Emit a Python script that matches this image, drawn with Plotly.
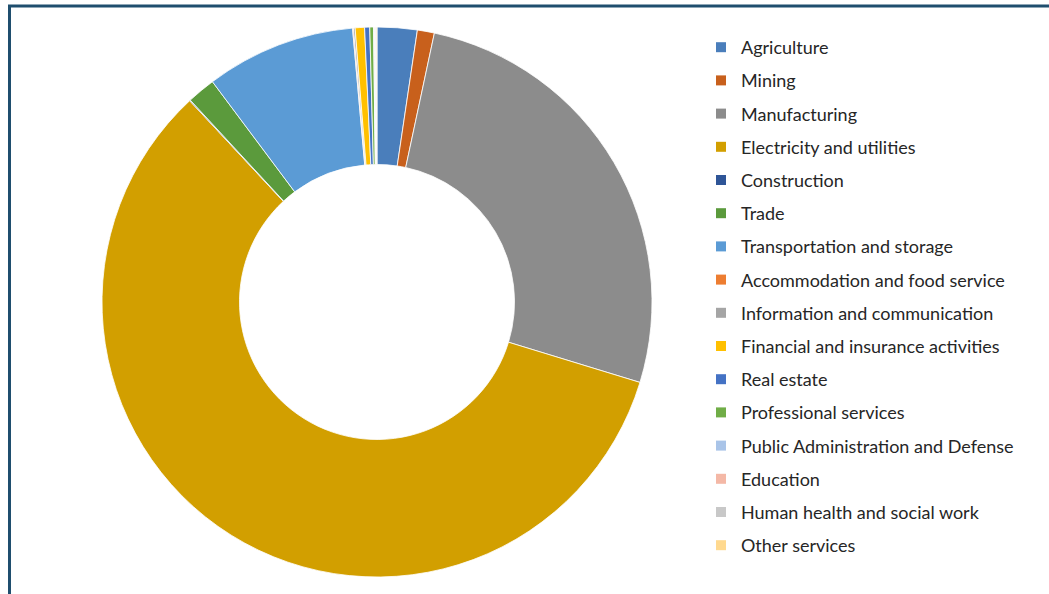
import plotly.graph_objects as go

labels = [
    "Agriculture", "Mining", "Manufacturing", "Electricity and utilities",
    "Construction", "Trade", "Transportation and storage",
    "Accommodation and food service", "Information and communication",
    "Financial and insurance activities", "Real estate", "Professional services",
    "Public Administration and Defense", "Education",
    "Human health and social work", "Other services",
]
values = [2.35, 1.0, 26.4, 58.4, 0.05, 1.67, 8.8, 0.05, 0.1, 0.55, 0.3, 0.22,
          0.05, 0.05, 0.05, 0.05]
colors = [
    "#4A7EBB", "#C8601C", "#8C8C8C", "#D29F00", "#2F5597", "#5B9A3C",
    "#5B9BD5", "#ED7D31", "#A5A5A5", "#FFC000", "#4472C4", "#70AD47",
    "#A9C4E8", "#F4B8A6", "#C8C8C8", "#FFD98F",
]

W, H = 1049, 594

fig = go.Figure()
fig.add_trace(go.Pie(
    labels=labels, values=values, sort=False, direction="clockwise",
    rotation=0, hole=0.5, textinfo="none", hoverinfo="label+percent",
    marker=dict(colors=colors, line=dict(color="white", width=0.8)),
    domain=dict(x=[102 / W, 652 / W], y=[1 - 577 / H, 1 - 27 / H]),
    showlegend=False,
))
# legend entries (one per category, matching slice colours)
for lab, col in zip(labels, colors):
    fig.add_trace(go.Scatter(
        x=[None], y=[None], mode="markers", name=lab, legendgroup=lab,
        marker=dict(symbol="square", size=10, color=col),
    ))

fig.update_layout(
    width=W, height=H,
    margin=dict(l=0, r=0, t=0, b=0),
    paper_bgcolor="white", plot_bgcolor="white",
    xaxis=dict(visible=False), yaxis=dict(visible=False),
    font=dict(family="Lato, Calibri, sans-serif", size=18, color="#262626"),
    legend=dict(
        x=701 / W, y=1 - 29 / H, xanchor="left", yanchor="top",
        tracegroupgap=6.8, itemwidth=30, bgcolor="rgba(0,0,0,0)",
        font=dict(size=18),
    ),
    shapes=[dict(
        type="rect", xref="paper", yref="paper",
        x0=9.5 / W, x1=1.05, y0=-0.05, y1=1 - 6 / H,
        line=dict(color="#1F4E6E", width=3), layer="above",
    )],
)

fig.write_html("out.html")
